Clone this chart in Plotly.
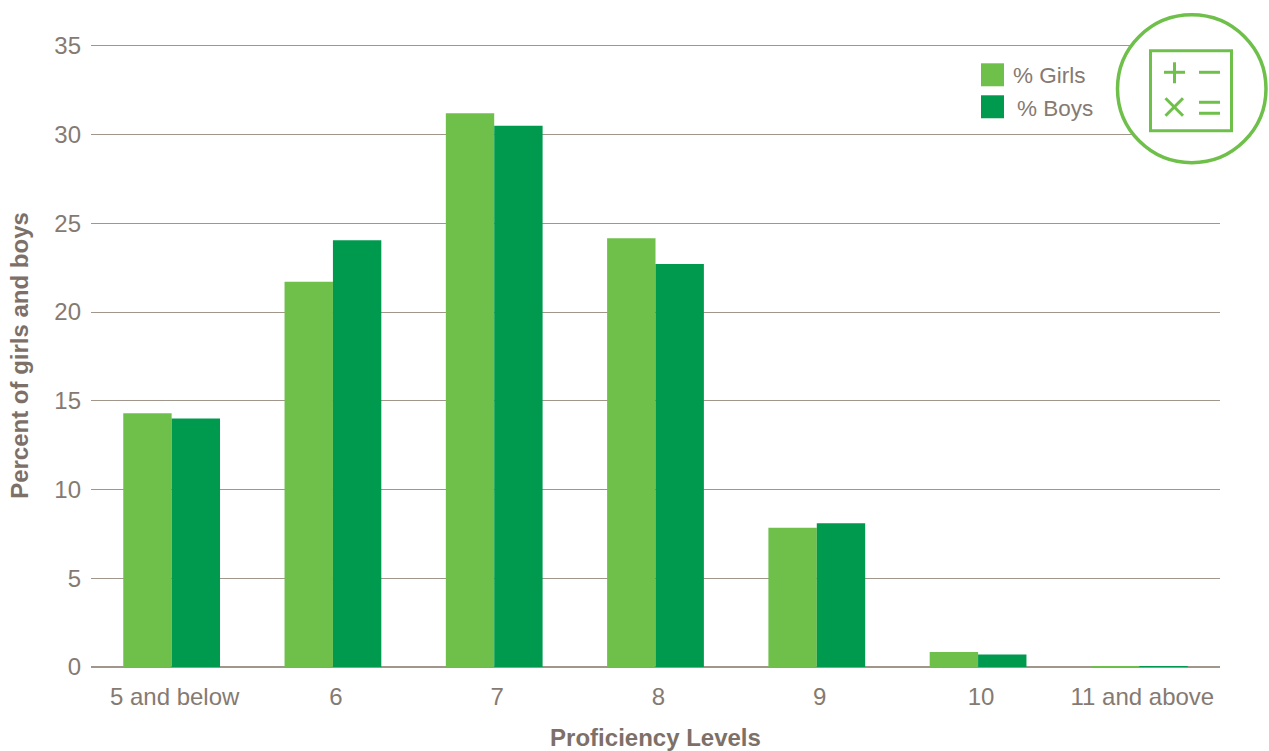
import plotly.graph_objects as go

# Share of pupils at each proficiency level
levels = ["5 and below", "6", "7", "8", "9", "10", "11 and above"]
girls = [14.3, 21.7, 31.2, 24.15, 7.85, 0.85, 0.05]
boys = [14.0, 24.05, 30.5, 22.7, 8.1, 0.7, 0.05]
y_ticks = [0, 5, 10, 15, 20, 25, 30, 35]

WIDTH, HEIGHT = 1269, 751
LEFT, RIGHT, TOP, BOTTOM = 91, 49, 43.7, 84
GIRLS_COLOR = "#6fc04b"
BOYS_COLOR = "#009a4e"
TEXT_COLOR = "#857a72"
TITLE_COLOR = "#7d7068"
RULE_COLOR = "#a0968c"
FONT = "Liberation Sans"


def px(x):
    return (x - LEFT) / (WIDTH - LEFT - RIGHT)


def py(y):
    return 1 - (y - TOP) / (HEIGHT - TOP - BOTTOM)


def box(x0, y0, x1, y1, kind="rect", **style):
    return dict(type=kind, xref="paper", yref="paper", x0=px(x0), x1=px(x1),
                y0=py(y0), y1=py(y1), layer="above", **style)


def stroke(x0, y0, x1, y1):
    return box(x0, y0, x1, y1, kind="line", line=dict(color=GIRLS_COLOR, width=3))


fig = go.Figure()
fig.add_bar(name="% Girls", x=levels, y=girls, marker=dict(color=GIRLS_COLOR, line_width=0))
fig.add_bar(name="% Boys", x=levels, y=boys, marker=dict(color=BOYS_COLOR, line_width=0))

shapes = [
    # Legend swatches
    box(981, 63, 1004, 86, fillcolor=GIRLS_COLOR, line_width=0),
    box(981, 95, 1004, 118, fillcolor=BOYS_COLOR, line_width=0),
    # Arithmetic badge
    box(1117.5, 14.5, 1266, 162.5, kind="circle", fillcolor="white",
        line=dict(color=GIRLS_COLOR, width=3.5)),
    box(1150.5, 50.5, 1231.5, 130.5, line=dict(color=GIRLS_COLOR, width=3)),
    stroke(1164, 72, 1185, 72),
    stroke(1174.5, 62, 1174.5, 83),
    stroke(1199, 72, 1220, 72),
    stroke(1165.5, 98, 1183, 115.5),
    stroke(1165.5, 115.5, 1183, 98),
    stroke(1199, 102, 1220, 102),
    stroke(1199, 113, 1220, 113),
]

annotations = [
    dict(text="% Girls", x=px(1011), y=py(75), xref="paper", yref="paper", xanchor="left",
         yanchor="middle", showarrow=False, font=dict(family=FONT, size=22.5, color=TEXT_COLOR)),
    dict(text="% Boys", x=px(1015), y=py(108), xref="paper", yref="paper", xanchor="left",
         yanchor="middle", showarrow=False, font=dict(family=FONT, size=22.5, color=TEXT_COLOR)),
]

fig.update_layout(
    width=WIDTH,
    height=HEIGHT,
    autosize=False,
    margin=dict(l=LEFT, r=RIGHT, t=TOP, b=BOTTOM, pad=0),
    paper_bgcolor="white",
    plot_bgcolor="white",
    barmode="group",
    bargap=0.4,
    bargroupgap=0,
    showlegend=False,
    font=dict(family=FONT, color=TEXT_COLOR, size=24),
    shapes=shapes,
    annotations=annotations,
    xaxis=dict(
        type="category",
        automargin=False,
        showgrid=False,
        showline=False,
        ticks="",
        tickfont=dict(size=24, color=TEXT_COLOR),
        ticklabelstandoff=13,
        ticklabelshift=3,
        title=dict(text="<b>Proficiency Levels</b>", font=dict(size=24, color=TITLE_COLOR), standoff=25),
    ),
    yaxis=dict(
        range=[0, 35.1],
        automargin=False,
        tickvals=y_ticks,
        showgrid=True,
        gridcolor=RULE_COLOR,
        gridwidth=1,
        zeroline=True,
        zerolinecolor=RULE_COLOR,
        zerolinewidth=2,
        showline=False,
        ticks="",
        tickfont=dict(size=24, color=TEXT_COLOR),
        ticklabelstandoff=9,
        title=dict(text="<b>Percent of girls and boys</b>", font=dict(size=24, color=TITLE_COLOR), standoff=18),
    ),
)

fig.write_html("out.html", config=dict(displayModeBar=False))
